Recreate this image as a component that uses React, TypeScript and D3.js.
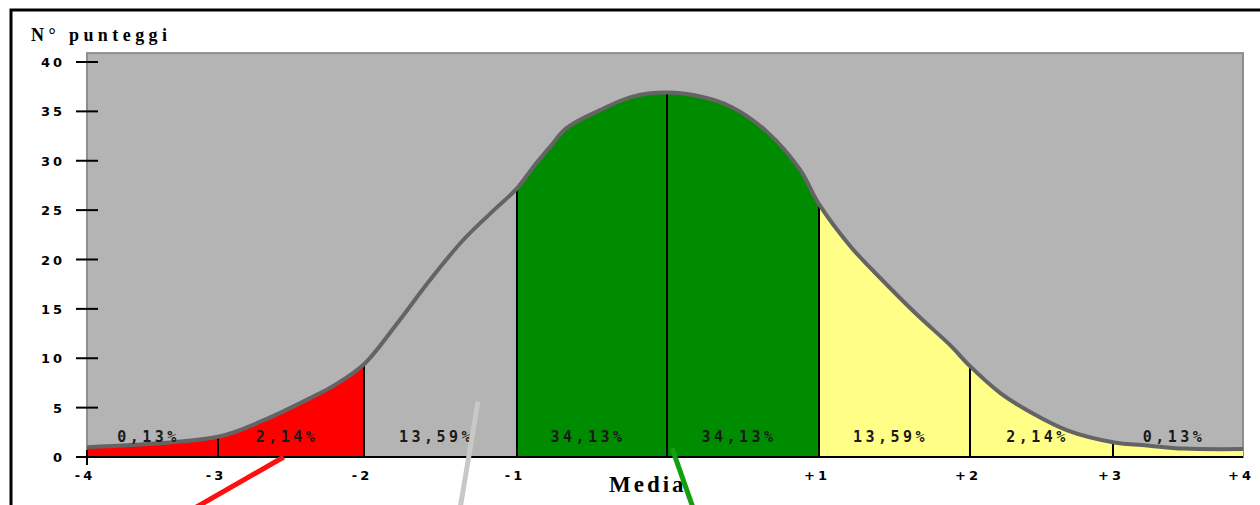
import React from "react";
import * as d3 from "d3";

// ---- data ----
const zScores = [-4, -3, -2.69, -2.35, -2.21, -2, -1.78, -1.57, -1.35, -1.13, -1, -0.89, -0.78, -0.67, -0.45, -0.23, 0, 0.22, 0.43, 0.66, 0.875, 1, 1.21, 1.42, 1.65, 1.87, 2, 2.21, 2.44, 2.68, 3, 3.28, 3.54, 4];
const counts = [1.0, 2.05, 3.7, 6.1, 7.2, 9.4, 13.6, 17.9, 22.0, 25.3, 27.2, 29.4, 31.4, 33.3, 35.1, 36.5, 36.9, 36.5, 35.4, 32.9, 29.1, 25.6, 21.3, 17.9, 14.4, 11.3, 9.2, 6.5, 4.4, 2.7, 1.5, 1.15, 0.85, 0.8];

const xTickValues = [-4, -3, -2, -1, 0, 1, 2, 3, 4];
const xTickLabels = ["-4", "-3", "-2", "-1", "", "+1", "+2", "+3", "+4"];
const yTickValues = [0, 5, 10, 15, 20, 25, 30, 35, 40];

const bandStarts = [-4, -3, -2, -1, 0, 1, 2, 3];
const bandLabels = ["0,13%", "2,14%", "13,59%", "34,13%", "34,13%", "13,59%", "2,14%", "0,13%"];

const zoneFrom = [-4, -2, -1, 1];
const zoneTo = [-2, -1, 1, 4];
const zoneNames = ["red", "gray", "green", "yellow"];

const dividers = [-3, -2, -1, 0, 1, 2, 3];

const yTitle = "N° punteggi";
const meanLabel = "Media";

// pointer annotations (in data units: z-score, count)
const pointerNames = ["red", "gray", "green"];
const pointerFrom: [number, number][] = [[-2.55, 0], [-1.255, 5.6], [0.033, 0.9]];
const pointerTo: [number, number][] = [[-3.34, -6.4], [-1.385, -6.4], [0.2, -6.4]];

// ---- styles ----
const zoneColor: Record<string, string> = {
  red: "#ff0000",
  gray: "#b4b4b4",
  green: "#008c00",
  yellow: "#ffff88",
};
const pointerColor: Record<string, string> = {
  red: "#ff1010",
  gray: "#c8c8c8",
  green: "#10a010",
};

const W = 1260;
const H = 505;

export default function App() {
  // the original axis is slightly uneven; calibrate piecewise
  const x = d3
    .scaleLinear()
    .domain(xTickValues)
    .range([87, 218, 364, 517, 667, 819, 970, 1113, 1243]);
  const y = d3.scaleLinear().domain([0, 40]).range([457, 62]);

  const pts = zScores.map((z, i) => [z, counts[i]] as [number, number]);
  const valueAt = (z: number) => {
    const i = zScores.indexOf(z);
    if (i >= 0) return counts[i];
    return d3.scaleLinear().domain(zScores).range(counts)(z);
  };

  const curve = d3.curveCatmullRom.alpha(0.5);
  const area = d3
    .area<[number, number]>()
    .x((d) => x(d[0]))
    .y0(y(0))
    .y1((d) => y(d[1]))
    .curve(curve);
  const line = d3
    .line<[number, number]>()
    .x((d) => x(d[0]))
    .y((d) => y(d[1]))
    .curve(curve);

  const areaD = area(pts) || "";
  const lineD = line(pts) || "";

  const plotLeft = x(-4);
  const plotRight = x(4);
  const plotTop = y(40.9);
  const plotBottom = y(0);

  const tickFont = "'DejaVu Sans', sans-serif";

  return (
    <svg
      width={W}
      height={H}
      style={{ position: "absolute", left: 0, top: 0, background: "#fff" }}
    >
      <defs>
        {zoneNames.map((n, i) => (
          <clipPath id={`clip-${n}`} key={n}>
            <rect
              x={x(zoneFrom[i])}
              y={0}
              width={x(zoneTo[i]) - x(zoneFrom[i])}
              height={H}
            />
          </clipPath>
        ))}
      </defs>

      {/* outer frame (runs off the picture on right and bottom) */}
      <rect x={11} y={10} width={1270} height={520} fill="#fff" stroke="#000" strokeWidth={3} />

      {/* plot background */}
      <rect
        x={plotLeft}
        y={plotTop}
        width={plotRight - plotLeft}
        height={plotBottom - plotTop}
        fill="#b4b4b4"
        stroke="#8e8e8e"
        strokeWidth={2}
      />

      {/* zone fills under the curve */}
      {zoneNames.map((n) => (
        <path key={n} d={areaD} fill={zoneColor[n]} clipPath={`url(#clip-${n})`} />
      ))}

      {/* dividers */}
      {dividers.map((z) => (
        <line
          key={z}
          x1={x(z)}
          x2={x(z)}
          y1={y(0)}
          y2={y(valueAt(z))}
          stroke="#000"
          strokeWidth={2}
        />
      ))}

      {/* curve */}
      <path d={lineD} fill="none" stroke="#646464" strokeWidth={4} strokeLinejoin="round" />

      {/* band percentages */}
      {bandStarts.map((z, i) => (
        <text
          key={i}
          x={(x(z) + x(z + 1)) / 2 - 4}
          y={442}
          textAnchor="middle"
          fontFamily="'DejaVu Sans Mono', monospace"
          fontWeight="bold"
          fontSize={15}
          letterSpacing={3.5}
          fill="#1a1a1a"
        >
          {bandLabels[i]}
        </text>
      ))}

      {/* x axis */}
      <line x1={plotLeft} x2={plotRight} y1={y(0)} y2={y(0)} stroke="#000" strokeWidth={2} />
      <line x1={plotLeft} x2={plotLeft} y1={y(0) - 7} y2={y(0) + 8} stroke="#000" strokeWidth={2} />
      {xTickValues.map((v, i) => (
        <text
          key={v}
          x={x(v) - 2}
          y={480}
          textAnchor="middle"
          fontFamily={tickFont}
          fontWeight="bold"
          fontSize={13}
          letterSpacing={3}
          fill="#000"
        >
          {xTickLabels[i]}
        </text>
      ))}

      {/* y axis ticks */}
      {yTickValues.map((v) => (
        <g key={v}>
          <line x1={76} x2={98} y1={y(v)} y2={y(v)} stroke="#000" strokeWidth={2} />
          <text
            x={65}
            y={y(v) + 5}
            textAnchor="end"
            fontFamily={tickFont}
            fontWeight="bold"
            fontSize={13}
            letterSpacing={3}
            fill="#000"
          >
            {v}
          </text>
        </g>
      ))}

      {/* y title */}
      <text
        x={31}
        y={41}
        fontFamily="'Liberation Serif', 'DejaVu Serif', serif"
        fontWeight="bold"
        fontSize={18}
        textLength={136}
        lengthAdjust="spacing"
        fill="#000"
      >
        {yTitle}
      </text>

      {/* Media label */}
      <text
        x={609}
        y={492}
        fontFamily="'Liberation Serif', 'DejaVu Serif', serif"
        fontWeight="bold"
        fontSize={23}
        letterSpacing={3}
        fill="#000"
      >
        {meanLabel}
      </text>

      {/* pointer lines */}
      {pointerNames.map((n, i) => (
        <line
          key={n}
          x1={x(pointerFrom[i][0])}
          y1={y(pointerFrom[i][1])}
          x2={x(pointerTo[i][0])}
          y2={y(pointerTo[i][1])}
          stroke={pointerColor[n]}
          strokeWidth={5}
        />
      ))}
    </svg>
  );
}
